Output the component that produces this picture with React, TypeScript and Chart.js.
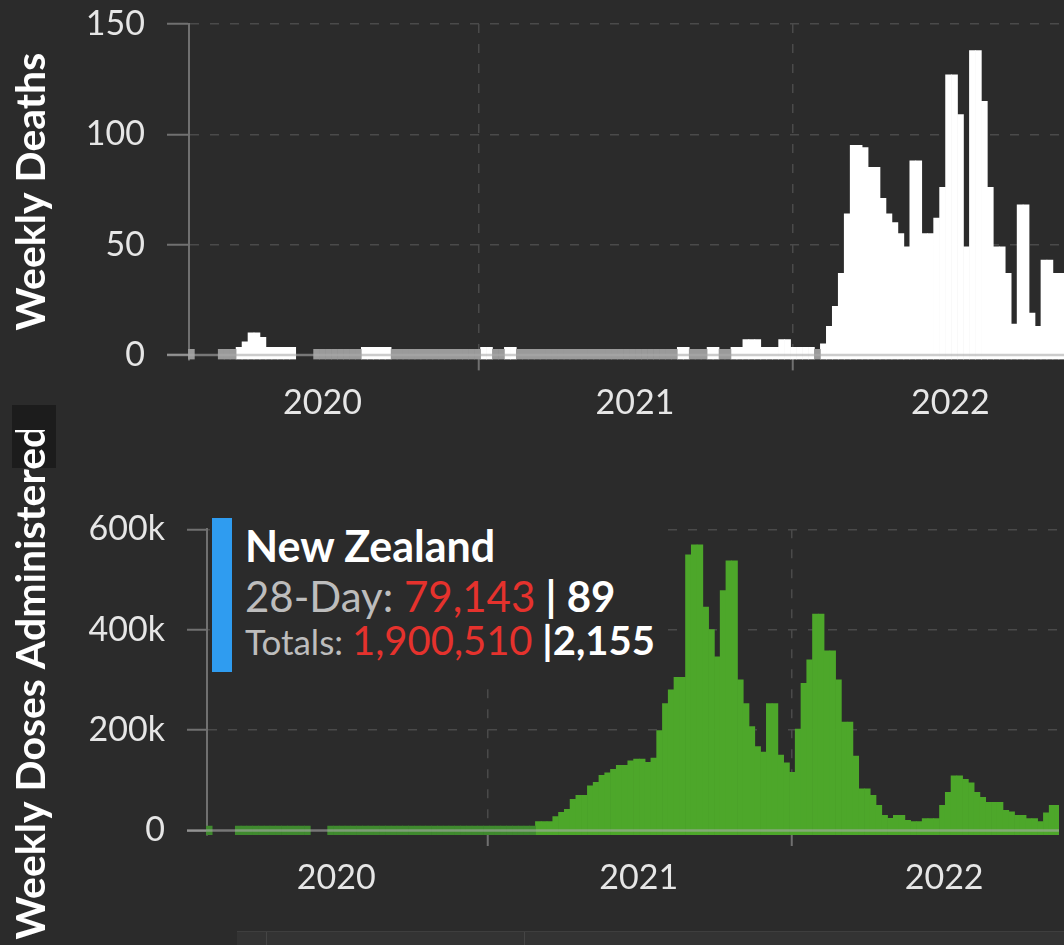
import React, { useEffect, useRef } from 'react';
import { Chart, registerables } from 'chart.js';

Chart.register(...registerables);

const FONT = 'Lato, "Noto Sans", "DejaVu Sans", sans-serif';

// Weekly deaths, one value per week (null = no report, 0 = reported zero)
const weeklyDeaths: (number | null)[] = [
  0, null, null, null, null, 0, 0, 0, // 0-7
  2, 6, 10, 10, 8, 2, 1, 2, 1, 1, // 8-17
  null, null, null, // 18-20
  0, 0, 0, 0, 0, 0, 0, 0, // 21-28
  1, 2, 1, 1, 1, // 29-33
  0, 0, 0, 0, 0, 0, 0, 0, 0, 0, 0, 0, 0, 0, 0, // 34-48
  1, 1, 0, 0, 1, 1, // 49-54
  0, 0, 0, 0, 0, 0, 0, 0, 0, 0, 0, 0, 0, 0, 0, 0, 0, 0, 0, 0, 0, 0, 0, 0, 0, 0, 0, // 55-81
  1, 1, 0, 0, 0, 1, 2, 0, 0, // 82-90
  2, 1, 7, 7, 7, 2, 3, 1, 7, 7, 3, 2, 1, 3, 0, // 91-105
  5, 13, 22, 37, 64, 95, 95, 94, 85, 85, // 106-115
  71, 64, 60, 55, 49, 88, 88, 55, 55, 62, // 116-125
  76, 127, 127, 109, 49, 138, 138, 115, 76, 49, // 126-135
  49, 37, 14, 68, 68, 19, 13, 43, 43, 37, // 136-145
  37, 37, // 146-147
];

// Weekly vaccine doses administered
const weeklyDoses: (number | null)[] = [
  0, null, null, null, null, // 0-4
  0, 0, 0, 0, 0, 0, 0, 0, 0, 0, 0, 0, 0, // 5-17
  null, null, null, // 18-20
  0, 0, 0, 0, 0, 0, 0, 0, 0, 0, 0, 0, 0, 0, 0, 0, 0, 0, // 21-38
  0, 0, 0, 0, 0, 0, 0, 0, 0, 0, 0, 0, 0, 0, 0, 0, 0, 0, // 39-56
  17500, 17500, 17500, 27500, 36000, 42000, 62000, 70000, 70000, 89000, // 57-66
  96000, 110000, 115000, 122000, 130000, 130000, 139000, 142000, 142000, 136000, // 67-76
  144000, 199000, 253000, 280000, 305000, 305000, 549000, 569000, 569000, 445000, // 77-86
  400000, 346000, 478000, 537000, 537000, 300000, 253000, 207000, 167000, 156000, // 87-96
  253000, 253000, 150000, 135000, 116000, 202000, 293000, 340000, 431000, 431000, // 97-106
  358000, 358000, 300000, 216000, 216000, 148000, 83000, 83000, 70000, 50000, // 107-116
  30000, 24000, 30000, 30000, 20000, 17500, 17500, 23500, 23500, 23500, // 117-126
  50000, 76000, 109000, 109000, 102000, 95000, 76000, 66000, 56000, 56000, // 127-136
  56000, 40000, 37000, 30000, 30000, 23500, 23500, 17500, 35000, 50000, // 137-146
  50000, // 147
];

const yearLabels = ['2020', '2021', '2022'];
const yearLabelWeek = [22.0, 74.4, 127.3];
const deathTicks = [0, 50, 100, 150];
const doseTicks = [0, 200000, 400000, 600000];

const countryName = 'New Zealand';
const day28Doses = 79143;
const day28Deaths = 89;
const totalDoses = 1900510;
const totalDeaths = 2155;

const X_MIN = -0.4;
const X_MAX = 147.2;

const fmt = (n: number) => n.toLocaleString('en-US');

const zeroLinePlugin = {
  id: 'zeroLine',
  afterDatasetsDraw(chart: any, _args: any, opts: any) {
    const y = chart.scales.y.getPixelForValue(0);
    const { ctx, chartArea } = chart;
    ctx.save();
    ctx.strokeStyle = 'rgba(170,170,170,0.6)';
    ctx.lineWidth = 2.5;
    ctx.beginPath();
    ctx.moveTo(chartArea.left - (opts.tickLength || 0), y);
    ctx.lineTo(chartArea.right, y);
    ctx.stroke();
    ctx.restore();
  },
};

interface Cfg {
  values: (number | null)[];
  posColor: string;
  zeroColor: string;
  posMinLen: number;
  zeroMinLen: number;
  yMin: number;
  yMax: number;
  ticks: number[];
  tickFmt: (v: number) => string;
  title: string;
  yWidth: number;
  yTickLen: number;
  topPad: number;
  xHeight: number;
}

function buildChart(canvas: HTMLCanvasElement, c: Cfg) {
  const pos = c.values.map((v, i) => ({ x: i, y: v !== null && v > 0 ? v : null }));
  const zero = c.values.map((v, i) => ({ x: i, y: v === 0 ? 0 : null }));
  const gridColor = '#4a4a4a';
  const axisColor = '#707070';
  const dash = [9, 11];
  return new Chart(canvas, {
    type: 'bar',
    data: {
      datasets: [
        {
          data: zero as any,
          backgroundColor: c.zeroColor,
          base: c.yMin,
          minBarLength: c.zeroMinLen,
          barPercentage: 1,
          categoryPercentage: 1,
          grouped: false,
          clip: { left: 4, top: 0, right: 0, bottom: 0 } as any,
        } as any,
        {
          data: pos as any,
          backgroundColor: c.posColor,
          base: c.yMin,
          minBarLength: c.posMinLen,
          barPercentage: 1,
          categoryPercentage: 1,
          grouped: false,
          clip: { left: 4, top: 0, right: 0, bottom: 0 } as any,
        } as any,
      ],
    },
    plugins: [zeroLinePlugin],
    options: {
      responsive: false,
      animation: false,
      layout: { autoPadding: false, padding: { top: c.topPad, left: 0, right: 0, bottom: 0 } } as any,
      plugins: {
        legend: { display: false },
        tooltip: { enabled: false },
        zeroLine: { tickLength: c.yTickLen },
      } as any,
      scales: {
        x: {
          type: 'linear',
          min: X_MIN,
          max: X_MAX,
          offset: false,
          afterBuildTicks: (s: any) => {
            s.ticks = yearLabelWeek.map((v) => ({ value: v }));
          },
          afterFit: (s: any) => {
            s.height = c.xHeight;
            s.paddingLeft = 0;
            s.paddingRight = 0;
          },
          ticks: {
            autoSkip: false,
            maxRotation: 0,
            padding: 12,
            color: '#e6e6e6',
            font: { family: FONT, size: 34 },
            callback: (_v: any, i: number) => yearLabels[i],
          },
          grid: {
            offset: true,
            color: gridColor,
            lineWidth: 1.5,
            tickColor: axisColor,
            tickLength: 11,
            tickWidth: 2,
            tickBorderDash: [],
          },
          border: { display: false, dash },
        } as any,
        y: {
          type: 'linear',
          min: c.yMin,
          max: c.yMax,
          afterBuildTicks: (s: any) => {
            s.ticks = c.ticks.map((v) => ({ value: v }));
          },
          afterFit: (s: any) => {
            s.width = c.yWidth;
            s.paddingTop = 0;
            s.paddingBottom = 0;
          },
          ticks: {
            padding: 22,
            color: '#e6e6e6',
            font: { family: FONT, size: 34 },
            callback: (v: any) => c.tickFmt(Number(v)),
          },
          grid: {
            color: (ctx: any) => (ctx.tick && ctx.tick.value === 0 ? 'rgba(0,0,0,0)' : gridColor),
            lineWidth: 1.5,
            tickColor: axisColor,
            tickLength: c.yTickLen,
            tickWidth: 2,
            tickBorderDash: [],
          },
          border: { display: true, color: axisColor, width: 2, dash },
          title: {
            display: true,
            text: c.title,
            color: '#ffffff',
            font: { family: FONT, size: 41, weight: 'bold' },
            padding: { top: 7, bottom: 0 },
          },
        } as any,
      },
    },
  });
}

export default function App() {
  const topRef = useRef<HTMLCanvasElement>(null);
  const botRef = useRef<HTMLCanvasElement>(null);

  useEffect(() => {
    document.body.style.background = '#2b2b2b';
    const top = buildChart(topRef.current!, {
      values: weeklyDeaths,
      posColor: '#ffffff',
      zeroColor: '#9a9a9a',
      posMinLen: 12,
      zeroMinLen: 10,
      yMin: -2,
      yMax: 150,
      ticks: deathTicks,
      tickFmt: (v) => String(v),
      title: 'Weekly Deaths',
      yWidth: 189,
      yTickLen: 22,
      topPad: 24,
      xHeight: 70.6,
    });
    const bot = buildChart(botRef.current!, {
      values: weeklyDoses,
      posColor: '#4da72a',
      zeroColor: '#3f8a2e',
      posMinLen: 9,
      zeroMinLen: 9,
      yMin: -9000,
      yMax: 600000,
      ticks: doseTicks,
      tickFmt: (v) => (v === 0 ? '0' : `${v / 1000}k`),
      title: 'Weekly Doses Administered',
      yWidth: 207,
      yTickLen: 20,
      topPad: 99.3,
      xHeight: 110,
    });
    return () => {
      top.destroy();
      bot.destroy();
    };
  }, []);

  const rowStyle: React.CSSProperties = {
    position: 'absolute',
    left: 35,
    whiteSpace: 'nowrap',
    fontFamily: FONT,
    lineHeight: 1,
  };

  return (
    <div
      style={{
        position: 'absolute',
        left: 0,
        top: 0,
        width: 1064,
        height: 945,
        overflow: 'hidden',
        background: '#2b2b2b',
      }}
    >
      <div style={{ position: 'absolute', left: 12, top: 405, width: 44, height: 63, background: '#1c1c1c' }} />
      <div
        style={{
          position: 'absolute',
          left: 237,
          top: 931,
          width: 840,
          height: 20,
          background: '#333333',
          borderTop: '1px solid #3e3e3e',
        }}
      >
        <div style={{ position: 'absolute', left: 29, top: 0, width: 1, height: 20, background: '#454545' }} />
        <div style={{ position: 'absolute', left: 287, top: 0, width: 1, height: 20, background: '#454545' }} />
      </div>
      <canvas ref={topRef} width={1069} height={430} style={{ position: 'absolute', left: 0, top: 0 }} />
      <canvas ref={botRef} width={1059} height={515} style={{ position: 'absolute', left: 0, top: 430 }} />
      <div
        style={{
          position: 'absolute',
          left: 210,
          top: 508,
          width: 452,
          height: 172,
          background: '#2b2b2b',
        }}
      >
        <div style={{ position: 'absolute', left: 2, top: 10, width: 20, height: 154, background: '#2f9cf0' }} />
        <div style={{ ...rowStyle, top: 16, fontSize: 43, fontWeight: 700, color: '#ffffff' }}>{countryName}</div>
        <div style={{ ...rowStyle, top: 67, fontSize: 42, color: '#bdbdbd' }}>
          28-Day: <span style={{ color: '#e5322d' }}>{fmt(day28Doses)}</span>
          <span style={{ color: '#ffffff', fontWeight: 700 }}> | {fmt(day28Deaths)}</span>
        </div>
        <div style={{ ...rowStyle, top: 112, fontSize: 40, color: '#bdbdbd' }}>
          <span style={{ fontSize: 35 }}>Totals: </span>
          <span style={{ color: '#e5322d' }}>{fmt(totalDoses)}</span>
          <span style={{ color: '#ffffff', fontWeight: 700 }}> |{fmt(totalDeaths)}</span>
        </div>
      </div>
    </div>
  );
}
